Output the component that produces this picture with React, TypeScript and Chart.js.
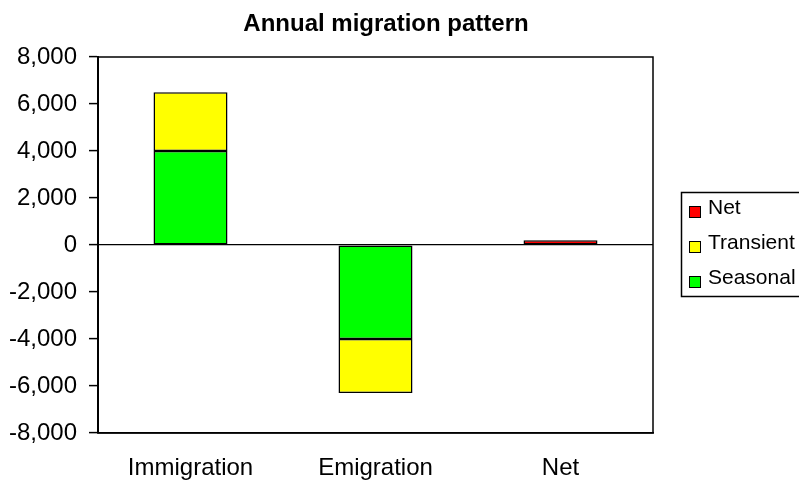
import React, { useEffect, useRef } from 'react';
import { Chart, registerables } from 'chart.js';

Chart.register(...registerables);

const titleText = 'Annual migration pattern';
const categories = ['Immigration', 'Emigration', 'Net'];
const seriesNames = ['Seasonal', 'Transient', 'Net'];
const seasonal = [4000, -4000, null];
const transient = [2500, -2300, null];
const net = [null, null, 200];
const seriesColors = ['#00FF00', '#FFFF00', '#FF0000'];
const yMin = -8000;
const yMax = 8000;
const yStep = 2000;

const FONT = '"Liberation Sans", Arial, Helvetica, sans-serif';

const decorPlugin = {
  id: 'decor',
  afterDraw(chart: any) {
    const { ctx, chartArea: a } = chart;
    ctx.save();
    // plot frame
    ctx.strokeStyle = '#000';
    ctx.lineWidth = 1.5;
    ctx.strokeRect(a.left, a.top, a.right - a.left, a.bottom - a.top);
    ctx.lineWidth = 2;
    ctx.beginPath();
    ctx.moveTo(a.left, a.top);
    ctx.lineTo(a.left, a.bottom);
    ctx.stroke();

    // title
    ctx.fillStyle = '#000';
    ctx.font = 'bold 24px ' + FONT;
    ctx.textAlign = 'center';
    ctx.textBaseline = 'alphabetic';
    ctx.fillText(titleText, 386, 31);

    // legend (reverse order like Excel stacked)
    const items = chart.data.datasets.slice().reverse();
    ctx.lineWidth = 1.5;
    ctx.strokeStyle = '#000';
    ctx.strokeRect(681.5, 192.5, 140, 104);
    ctx.font = '21px ' + FONT;
    ctx.textAlign = 'left';
    ctx.textBaseline = 'middle';
    items.forEach((ds: any, i: number) => {
      const cy = 208 + i * 35;
      ctx.fillStyle = ds.backgroundColor;
      ctx.fillRect(689, cy - 2, 11, 11);
      ctx.lineWidth = 1;
      ctx.strokeRect(689.5, cy - 1.5, 11, 11);
      ctx.fillStyle = '#000';
      ctx.fillText(ds.label, 708, cy);
    });
    ctx.restore();
  },
};

export default function App() {
  const ref = useRef<HTMLCanvasElement | null>(null);

  useEffect(() => {
    if (!ref.current) return;
    const seriesData = [seasonal, transient, net];
    const chart = new Chart(ref.current, {
      type: 'bar',
      data: {
        labels: categories,
        datasets: seriesNames.map((name, i) => ({
          label: name,
          data: seriesData[i] as any,
          backgroundColor: seriesColors[i],
          borderColor: '#000',
          borderWidth: 1.5,
          borderSkipped: false,
          barPercentage: 0.4,
          categoryPercentage: 1.0,
        })),
      },
      options: {
        responsive: false,
        animation: false,
        devicePixelRatio: 1,
        layout: { padding: { left: 0, right: 146, top: 57, bottom: 0 } },
        plugins: {
          legend: { display: false },
          title: { display: false },
          tooltip: { enabled: false },
        },
        scales: {
          x: {
            stacked: true,
            grid: { display: false, drawTicks: false },
            border: { display: true, color: '#000', width: 1.5 },
            ticks: {
              color: '#000',
              font: { family: FONT, size: 24 },
              padding: 21,
              maxRotation: 0,
              autoSkip: false,
            },
            afterFit: (s: any) => {
              s.height = 48;
            },
          },
          y: {
            stacked: true,
            min: yMin,
            max: yMax,
            grid: {
              color: (c: any) => (c.tick && c.tick.value === 0 ? '#000' : 'rgba(0,0,0,0)'),
              tickColor: '#000',
              tickLength: 9,
              tickWidth: 1.5,
              lineWidth: 1.2,
            },
            border: { display: true, color: '#000', width: 2 },
            ticks: {
              stepSize: yStep,
              color: '#000',
              font: { family: FONT, size: 24 },
              padding: 12,
              callback: (v: any) => Number(v).toLocaleString('en-US'),
            },
            afterFit: (s: any) => {
              s.width = 98;
            },
          },
        },
      },
      plugins: [decorPlugin],
    });
    return () => chart.destroy();
  }, []);

  return (
    <div style={{ position: 'fixed', left: 0, top: 0, width: 799, height: 481, background: '#fff' }}>
      <canvas ref={ref} width={799} height={481} style={{ display: 'block' }} />
    </div>
  );
}
